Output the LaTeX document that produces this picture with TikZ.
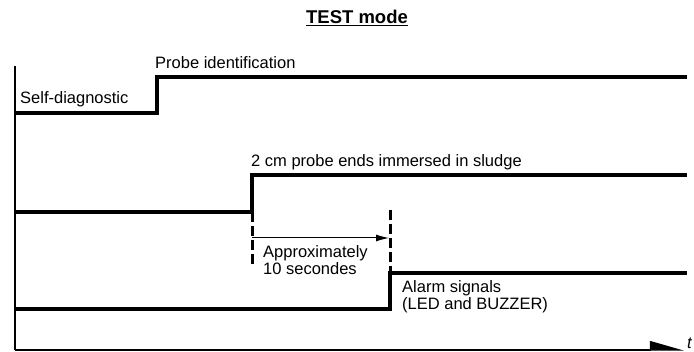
\documentclass[tikz,border=0pt]{standalone}
\usepackage{fontspec}
\setmainfont{Liberation Sans}
\usetikzlibrary{positioning, arrows.meta}
\tikzset{%
  x=1pt, y=-1pt,
  signal/.style={        % timing lines
    line width=3.2pt,
    line join=miter},
  alarm/.style={
    signal,
    line width=4.2pt},
  marker/.style={        % dashed time markers
    line width=3pt,
    dash pattern=on 10pt off 4pt},
  axis/.style={
    line width=1.2pt},
  lbl/.style={
    anchor=base west,
    inner sep=0pt,
    font=\fontsize{16.5}{17}\selectfont},
  twoline/.style={       % base = last line
    lbl,
    align=left}
}

\begin{document}
\begin{tikzpicture}
  \useasboundingbox (0,0) rectangle (694,352);

  % title
  \node[anchor=base, inner sep=0pt, font=\fontsize{18.5}{20}\bfseries] (title) at (357,24)
    {\underline{TEST mode}};

  % axes
  \coordinate (top) at (15,66);
  \coordinate (orig) at (15,350);
  \coordinate (tend) at (684,350);
  \draw[axis] (top) -- (orig);
  \draw[axis, -{Triangle[length=32pt, width=18pt, left]}] (orig) -- (tend);
  \node[lbl, font=\fontsize{16.5}{17}\itshape] (t) at (687,349) {t};

  % self-diagnostic / probe identification
  \coordinate (a0) at (15,113);
  \coordinate (a1) at (157,113);
  \coordinate (a2) at (157,77);
  \coordinate (a3) at (687,77);
  \draw[signal] (a0) -- (a1) -- (a2) -- (a3);
  \node[lbl] (selfdiag) at (20,104) {Self-diagnostic};
  \node[lbl] (probeid) at (155,69) {Probe identification};

  % probe in sludge
  \coordinate (b0) at (15,212);
  \coordinate (b1) at (252,212);
  \coordinate (b2) at (252,175);
  \coordinate (b3) at (687,175);
  \draw[signal] (b0) -- (b1) -- (b2) -- (b3);
  \node[lbl] (sludge) at (251,167) {2 cm probe ends immersed in sludge};

  % alarm
  \coordinate (c0) at (15,309);
  \coordinate (c1) at (390,309);
  \coordinate (c2) at (390,273);
  \coordinate (c3) at (687,273);
  \draw[alarm] (c0) -- (c1) -- (c2) -- (c3);
  \node[twoline] (alarmtxt) at (402,310) {Alarm signals\\(LED and BUZZER)};

  % delay
  \coordinate (m1) at (252,264);
  \coordinate (m2) at (390,210);
  \draw[marker] (b1) -- (m1);
  \draw[marker] (m2) -- (c2);
  \coordinate (d0) at (252,238);
  \coordinate (d1) at (389,238);
  \draw[line width=1pt, -{Latex[length=13pt, width=7pt]}] (d0) -- (d1);
  \node[twoline] (delay) at (263,275) {Approximately\\10 secondes};

\end{tikzpicture}
\end{document}
